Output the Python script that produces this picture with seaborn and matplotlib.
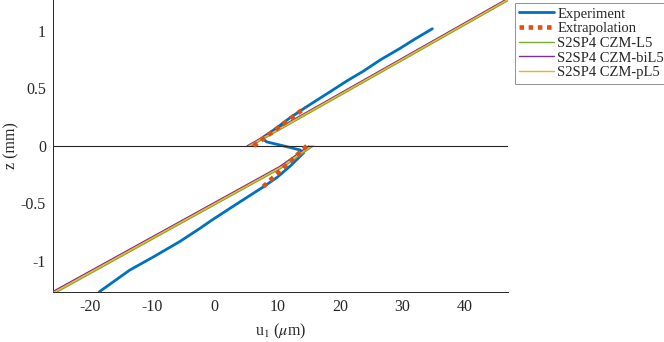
import numpy as np
import pandas as pd
import matplotlib
matplotlib.use("Agg")
import matplotlib.pyplot as plt
import seaborn as sns
from matplotlib.lines import Line2D

# ---------------- data ----------------
exp_u = [-18.5, -13.6, -9.9, -5.6, -2.35, -0.4, 3.5, 7.6, 10.0, 12.2, 14.2,
         13.6, 11.0, 8.3, 7.5, 9.8, 12.05, 14.45, 18.45, 21.1, 23.8, 26.45, 29.65, 32.0, 34.8]
exp_z = [-1.27, -1.08, -0.968, -0.832, -0.716, -0.643, -0.505, -0.362, -0.272, -0.168, -0.06,
         -0.035, 0.0, 0.035, 0.067, 0.154, 0.246, 0.333, 0.472, 0.565, 0.652, 0.748, 0.85, 0.93, 1.02]

extrap_upper_u = [6.2, 14.5]
extrap_upper_z = [0.0, 0.335]
extrap_lower_u = [14.7, 7.6]
extrap_lower_z = [0.0, -0.362]

model_names = ["S2SP4 CZM-L5", "S2SP4 CZM-biL5", "S2SP4 CZM-pL5"]
upper_z = [0.0, 1.3]
lower_z = [-1.3, -0.54, -0.18, 0.0]
L5_upper_u = [5.8, 48.05]
biL5_upper_u = [5.15, 47.4]
pL5_upper_u = [5.45, 47.7]
L5_lower_u = [-26.2, -0.95, 11.05, 15.75]
biL5_lower_u = [-27.0, -1.65, 10.35, 15.05]
pL5_lower_u = [-26.6, -1.3, 10.7, 15.4]

xticks = [-20, -10, 0, 10, 20, 30, 40]
yticks = [-1, -0.5, 0, 0.5, 1]
ytick_labels = ["-1", "-0.5", "0", "0.5", "1"]
xtick_labels = ["-20", "-10", "0", "10", "20", "30", "40"]

# ---------------- style ----------------
sns.set_style("white")
plt.rcParams["font.family"] = ["Liberation Serif", "DejaVu Serif"]
plt.rcParams["mathtext.fontset"] = "stix"

c_exp = "#0072BD"
c_ext = "#D95319"
c_L5 = "#77AC30"
c_bi = "#7E2F8E"
c_p = "#EDB120"
dot_style = (0, (1.0, 1.0))

fig = plt.figure(figsize=(6.64, 3.42), dpi=100)
ax = fig.add_axes([53 / 664, 1 - 291.6 / 342, (508 - 53) / 664, 291.6 / 342])

# experiment
df_exp = pd.DataFrame({"u": exp_u, "z": exp_z})
sns.lineplot(data=df_exp, x="u", y="z", sort=False, estimator=None, ax=ax,
             color=c_exp, lw=2.0, zorder=2, legend=False)

# models
rows = []
for name, uu, lu in zip(model_names, [L5_upper_u, biL5_upper_u, pL5_upper_u],
                        [L5_lower_u, biL5_lower_u, pL5_lower_u]):
    for u, z in zip(uu, upper_z):
        rows.append((name, "up", u, z))
    for u, z in zip(lu, lower_z):
        rows.append((name, "low", u, z))
df_mod = pd.DataFrame(rows, columns=["model", "seg", "u", "z"])
sns.lineplot(data=df_mod, x="u", y="z", hue="model", units="seg", sort=False,
             estimator=None, ax=ax, palette=[c_L5, c_bi, c_p], lw=1.0, zorder=3,
             legend=False)

# extrapolation (on top)
df_ext = pd.DataFrame({
    "u": extrap_upper_u + extrap_lower_u,
    "z": extrap_upper_z + extrap_lower_z,
    "seg": ["up"] * 2 + ["low"] * 2,
})
n0 = len(ax.lines)
sns.lineplot(data=df_ext, x="u", y="z", units="seg", sort=False, estimator=None, ax=ax,
             color=c_ext, lw=3.3, zorder=6, legend=False)
for l in ax.lines[n0:]:
    l.set_linestyle(dot_style)
    l.set_linewidth(3.3)
    l.set_dash_capstyle("butt")
    l.set_zorder(6)

ax.axhline(0, color="#262626", lw=0.8, zorder=5)

ax.set_xlim(-25.9, 46.9)
ax.set_ylim(-1.268, 1.27)
ax.set_xticks(xticks)
ax.set_xticklabels(xtick_labels)
ax.set_yticks(yticks)
ax.set_yticklabels(ytick_labels)
ax.tick_params(direction="in", length=3, width=0.6, color="#404040",
               labelsize=11.5, labelcolor="#262626", pad=5)
for s in ["top", "right"]:
    ax.spines[s].set_visible(False)
for s in ["left", "bottom"]:
    ax.spines[s].set_color("#262626")
    ax.spines[s].set_linewidth(0.7)

ax.set_xlabel(r"u$_1$ ($\mu$m)", fontsize=11.5, color="#262626", labelpad=5)
ax.set_ylabel("z (mm)", fontsize=11.5, color="#262626", labelpad=1)

# legend
handles = [
    Line2D([], [], color=c_exp, lw=2.0),
    Line2D([], [], color=c_ext, lw=3.3, linestyle=dot_style, dash_capstyle="butt"),
    Line2D([], [], color=c_L5, lw=1.0),
    Line2D([], [], color=c_bi, lw=1.0),
    Line2D([], [], color=c_p, lw=1.0),
]
labels = ["Experiment", "Extrapolation"] + model_names
leg = fig.legend(handles, labels, loc="upper left", bbox_to_anchor=(515 / 664, 1 - 3 / 342),
                 bbox_transform=fig.transFigure, borderaxespad=0, fontsize=10.5,
                 frameon=True, fancybox=False, framealpha=1, edgecolor="#808080",
                 handlelength=2.4, handletextpad=0.2, labelspacing=0.1, borderpad=0.3)
leg.get_frame().set_linewidth(0.6)

fig.savefig("out.png", dpi=100)
